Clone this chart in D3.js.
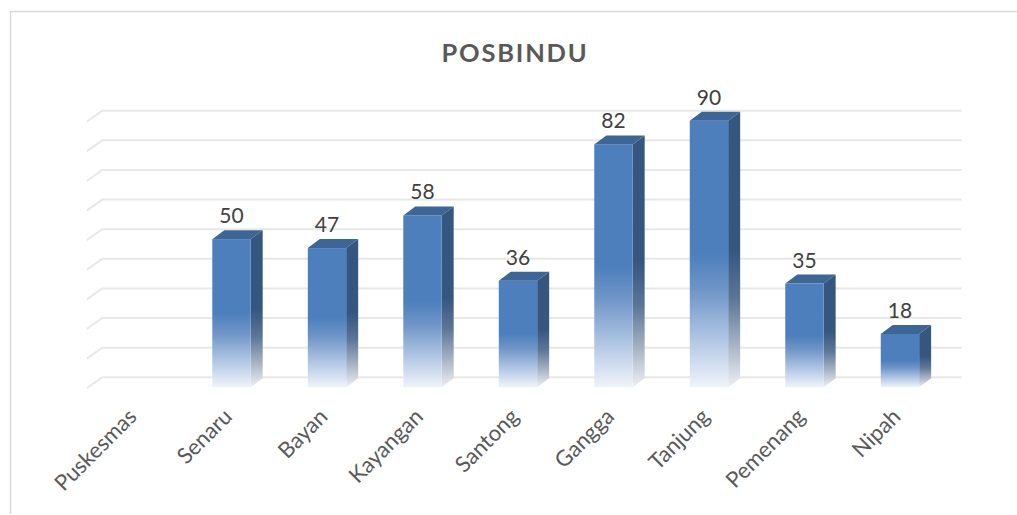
<!DOCTYPE html>
<html><head><meta charset="utf-8">
<script src="https://cdn.jsdelivr.net/npm/d3@7"></script>
<style>html,body{margin:0;padding:0;background:#fff;}svg{display:block;}</style>
</head><body>
<script>
const categories = ["Puskesmas","Senaru","Bayan","Kayangan","Santong","Gangga","Tanjung","Pemenang","Nipah"];
const values = [null,50,47,58,36,82,90,35,18];
const gridValues = [0,10,20,30,40,50,60,70,80,90];
const title = "POSBINDU";

const W = 1017, H = 515;
const svg = d3.select("body").append("svg").attr("width", W).attr("height", H);
svg.append("rect").attr("width", W).attr("height", H).attr("fill", "#fff");

// chart frame
svg.append("path").attr("d", "M10.5,514 L10.5,11.5 L1017,11.5")
  .attr("fill", "none").attr("stroke", "#d9d9d9").attr("stroke-width", 1.5);

const x = d3.scaleBand().domain(categories).range([88.25, 947.7]).paddingInner(0.598).paddingOuter(0.299);
const y = d3.scaleLinear().domain([0, 90]).range([387.3, 120.7]);
const DX = 12, DY = -9;      // bar depth
const WX = 14, WY = -10;     // back wall offset

const defs = svg.append("defs");
function grad(id, stops) {
  const g = defs.append("linearGradient").attr("id", id).attr("x1", 0).attr("y1", 0).attr("x2", 0).attr("y2", 1);
  stops.forEach(s => g.append("stop").attr("offset", s[0]).attr("stop-color", s[1]));
}
grad("gFront", [[0,"#4c7fbc"],[0.5,"#4c7fbc"],[0.64,"#7196c8"],[0.8,"#a9c1e1"],[1,"#f0f4fa"]]);
grad("gSide", [[0,"#34567f"],[0.5,"#34567f"],[0.68,"#5d7698"],[0.85,"#a9b5c6"],[1,"#eef0f3"]]);

// gridlines (back wall + side wall slant)
const grid = svg.append("g");
const r0 = x.range()[0], r1 = x.range()[1];
gridValues.forEach(v => {
  const yb = y(v) + WY;
  grid.append("path")
    .attr("d", `M${r0 - 1.5},${yb + 11} L${r0 + WX},${yb} L${r1 + WX},${yb}`)
    .attr("fill", "none").attr("stroke", "#e8e8e8").attr("stroke-width", 2);
});

// bars
const bars = svg.append("g");
categories.forEach((c, i) => {
  const v = values[i];
  if (v == null) return;
  const x0 = x(c), x1 = x0 + x.bandwidth();
  const yt = y(v), yb = y(0);
  bars.append("path")
    .attr("d", `M${x1},${yt} L${x1 + DX},${yt + DY} L${x1 + DX},${yb + DY} L${x1},${yb} Z`)
    .attr("fill", "url(#gSide)");
  bars.append("rect").attr("x", x0).attr("y", yt).attr("width", x1 - x0).attr("height", yb - yt)
    .attr("fill", "url(#gFront)");
  bars.append("path")
    .attr("d", `M${x0},${yt} L${x0 + DX},${yt + DY} L${x1 + DX},${yt + DY} L${x1},${yt} Z`)
    .attr("fill", "#3d6595");
  svg.append("text")
    .attr("x", (x0 + x1) / 2).attr("y", yt + DY - 7)
    .attr("text-anchor", "middle")
    .attr("font-family", "Lato, 'Open Sans', sans-serif").attr("font-size", 21)
    .attr("fill", "#404040").text(v);
});

// category labels
categories.forEach(c => {
  const cx = x(c) + x.bandwidth() / 2 + 2;
  svg.append("text")
    .attr("transform", `translate(${cx},418) rotate(-45)`)
    .attr("text-anchor", "end")
    .attr("font-family", "Lato, 'Open Sans', sans-serif").attr("font-size", 22)
    .attr("fill", "#595959").text(c);
});

// title
svg.append("text").attr("x", 515).attr("y", 61.5).attr("text-anchor", "middle")
  .attr("font-family", "Lato, 'Open Sans', sans-serif").attr("font-weight", "bold")
  .attr("font-size", 25.5).attr("letter-spacing", 1.8).attr("fill", "#595959").text(title);
</script>
</body></html>
